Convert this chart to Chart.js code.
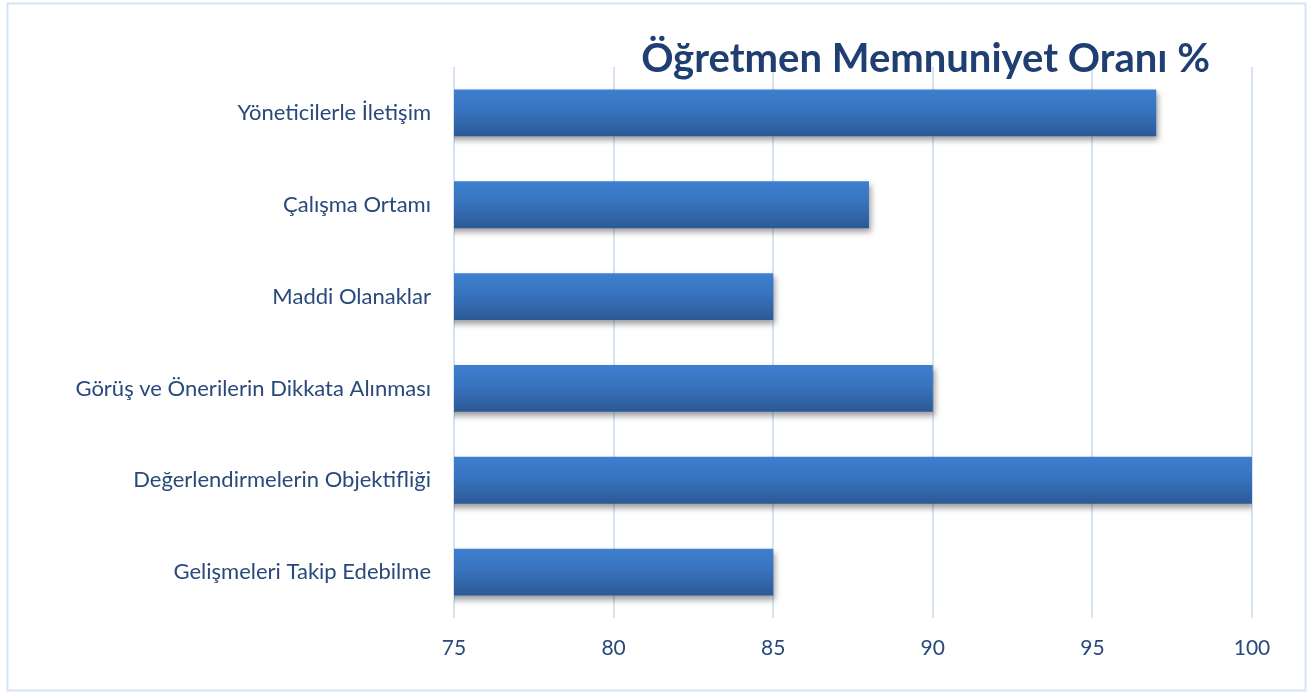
<!DOCTYPE html>
<html>
<head>
<meta charset="utf-8">
<script src="https://cdn.jsdelivr.net/npm/chart.js@4"></script>
<style>
  html, body { margin: 0; padding: 0; background: #fff; }
  #wrap { width: 1314px; height: 695px; position: relative; }
</style>
</head>
<body>
<div id="wrap"><canvas id="BarChart"></canvas></div>
<script>
// ================ Veriler ======================
const categories = [
    'Yöneticilerle İletişim',
    'Çalışma Ortamı',
    'Maddi Olanaklar',
    'Görüş ve Önerilerin Dikkata Alınması',
    'Değerlendirmelerin Objektifliği',
    'Gelişmeleri Takip Edebilme'
];
const memnuniyet = [97, 88, 85, 90, 100, 85];
const xTicks = [75, 80, 85, 90, 95, 100];
const chartTitle = 'Öğretmen Memnuniyet Oranı %';

const BAR_PCT = 0.51;

// gradient for each bar (light top -> dark bottom)
function barGradient(c) {
    const chart = c.chart;
    const area = chart.chartArea;
    if (!area || !chart.scales.y) return '#3A74BD';
    const yc = chart.scales.y.getPixelForValue(c.dataIndex);
    const h = (area.bottom - area.top) / categories.length * BAR_PCT;
    const g = chart.ctx.createLinearGradient(0, yc - h / 2, 0, yc + h / 2);
    g.addColorStop(0, '#3E7FD0');
    g.addColorStop(0.45, '#3873BE');
    g.addColorStop(1, '#2C5996');
    return g;
}

// frame + title + bar shadow
const decorPlugin = {
    id: 'decor',
    beforeDraw(chart) {
        const { ctx } = chart;
        ctx.save();
        ctx.strokeStyle = '#D6E3F4';
        ctx.lineWidth = 2;
        ctx.strokeRect(7.5, 3.5, 1298, 687);
        ctx.restore();
    },
    beforeDatasetsDraw(chart) {
        const { ctx } = chart;
        ctx.save();
        ctx.shadowColor = 'rgba(0,0,0,0.38)';
        ctx.shadowBlur = 6;
        ctx.shadowOffsetX = 2;
        ctx.shadowOffsetY = 4;
    },
    afterDatasetsDraw(chart) {
        chart.ctx.restore();
    },
    afterDraw(chart) {
        const { ctx, chartArea } = chart;
        ctx.save();
        ctx.font = 'bold 40px Lato, "Open Sans", sans-serif';
        ctx.fillStyle = '#1F3F72';
        ctx.textAlign = 'right';
        ctx.textBaseline = 'alphabetic';
        ctx.fillText(chartTitle, chartArea.right - 42, 72);
        ctx.restore();
    }
};

function createBarChart() {
    const canvasElement = document.getElementById('BarChart');
    const data = {
        labels: categories,
        datasets: [{
            label: chartTitle,
            data: memnuniyet,
            backgroundColor: barGradient,
            borderWidth: 0,
            barPercentage: 1,
            categoryPercentage: BAR_PCT
        }]
    };

    const config = {
        type: 'bar',
        data: data,
        options: {
            indexAxis: 'y',
            responsive: true,
            maintainAspectRatio: false,
            animation: false,
            layout: {
                padding: { left: 10, right: 62, top: 67, bottom: 0 }
            },
            scales: {
                x: {
                    min: 75,
                    max: 100,
                    afterBuildTicks: scale => {
                        scale.ticks = xTicks.map(v => ({ value: v }));
                    },
                    afterFit: scale => { scale.height = 77; },
                    grid: { color: '#D6E3F4', lineWidth: 2, drawTicks: false },
                    border: { display: false },
                    ticks: {
                        padding: 18,
                        color: '#29497C',
                        font: { family: 'Lato, "Open Sans", sans-serif', size: 21 }
                    }
                },
                y: {
                    afterFit: scale => { scale.width = 444; },
                    grid: { display: false, drawTicks: false },
                    border: { display: false },
                    ticks: {
                        padding: 23,
                        color: '#29497C',
                        font: { family: 'Lato, "Open Sans", sans-serif', size: 22 }
                    }
                }
            },
            plugins: {
                legend: { display: false },
                title: { display: false },
                tooltip: { enabled: false }
            }
        },
        plugins: [decorPlugin]
    };

    new Chart(canvasElement, config);
}

createBarChart();
</script>
</body>
</html>
